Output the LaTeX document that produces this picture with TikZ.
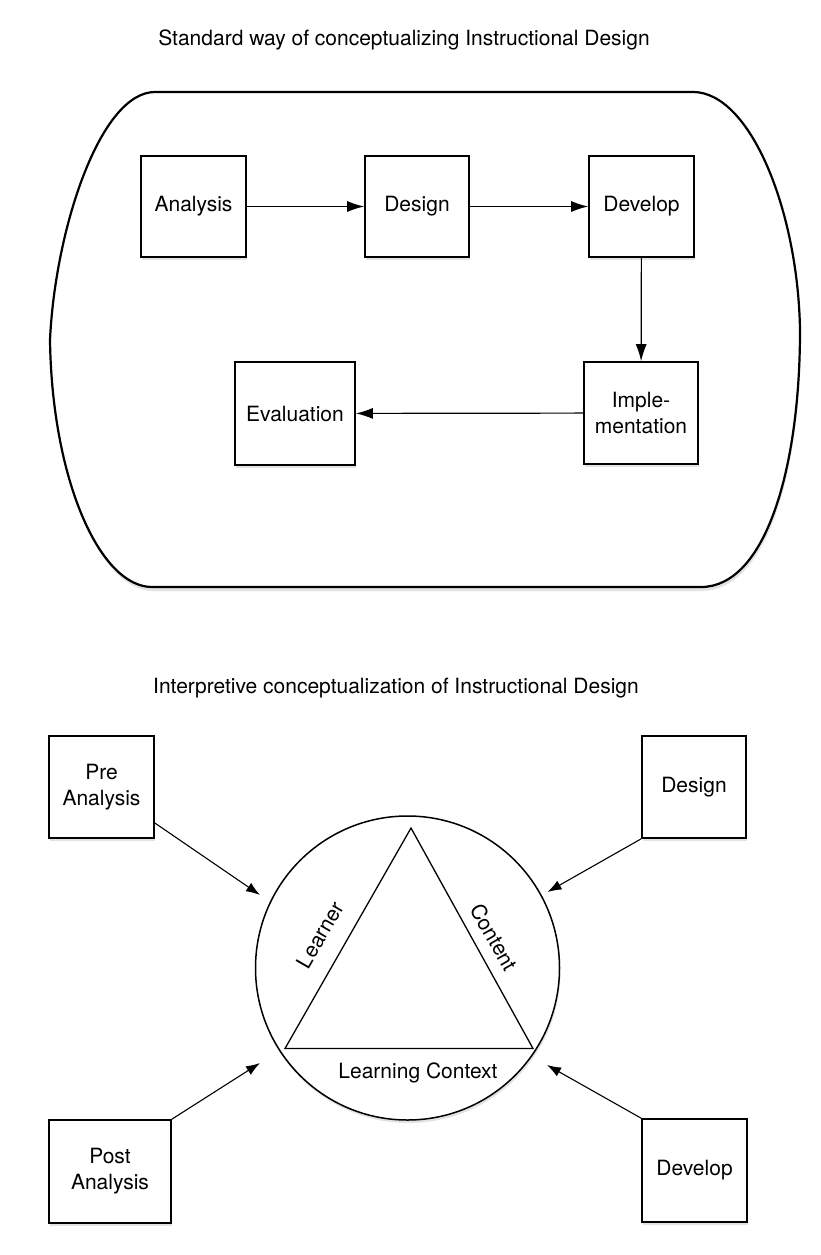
\documentclass[tikz,border=0pt]{standalone}
\usepackage{fontspec}
\setmainfont{TeX Gyre Heros}
\usetikzlibrary{arrows.meta,shadows}

\tikzset{
  boite/.style={draw,line width=1.6pt,fill=white,align=center,inner sep=2pt,
    drop shadow={opacity=0.22,shadow xshift=1pt,shadow yshift=-3pt}},
  fleche/.style={line width=1.2pt,-{Latex[length=17pt,width=11pt]}},
  flechebis/.style={line width=1.1pt,-{Latex[length=14pt,width=10pt]}}
}

\begin{document}
\begin{tikzpicture}[x=1pt,y=-1pt,font=\fontsize{21}{26}\selectfont]
	\useasboundingbox (0,0) rectangle (820,1255);
	\fill[white] (0,0) rectangle (820,1255);

	% la version standard
	\node (titreA) at (404,40) {Standard way of conceptualizing Instructional Design};
	\draw[line width=2.2pt,drop shadow={opacity=0.22,shadow xshift=1pt,shadow yshift=-4pt},fill=white]
		(155,92)--(693,92) .. controls (750,92) and (798,210) .. (800,330)
		.. controls (800,470) and (765,587) .. (701,587)--(152,587)
		.. controls (100,587) and (52,480) .. (50,340)
		.. controls (55,230) and (100,92) .. (155,92);

	\node[boite,minimum width=105pt,minimum height=101pt] (analyse) at (193.5,206.5) {Analysis};
	\node[boite,minimum width=104pt,minimum height=101pt] (design) at (417,206.5) {Design};
	\node[boite,minimum width=105pt,minimum height=101pt] (develop) at (641.5,206.5) {Develop};
	\node[boite,minimum width=114pt,minimum height=102pt] (impl) at (641,413) {Imple-\\mentation};
	\node[boite,minimum width=120pt,minimum height=103pt] (eval) at (295,413.5) {Evaluation};

	\draw[fleche] (analyse)--(design);
	\draw[fleche] (design)--(develop);
	\draw[fleche] (develop)--(impl);
	\draw[fleche] (impl)--(eval);

	% la version interpretative
	\node (titreB) at (396,688) {Interpretive conceptualization of Instructional Design};

	\node[boite,minimum width=105pt,minimum height=102pt] (pre) at (101.5,787) {Pre\\Analysis};
	\node[boite,minimum width=104pt,minimum height=102pt] (designB) at (694,787) {Design};
	\node[boite,minimum width=122pt,minimum height=103pt] (post) at (110,1171.5) {Post\\Analysis};
	\node[boite,minimum width=105pt,minimum height=103pt] (developB) at (694.5,1170.5) {Develop};

	\node[circle,draw,line width=1.5pt,fill=white,minimum size=304pt,
		drop shadow={opacity=0.22,shadow xshift=1pt,shadow yshift=-3pt}] (cercle) at (407.5,968) {};

	\coordinate (sommet) at (411,828);
	\coordinate (gauche) at (285,1048.5);
	\coordinate (droite) at (533,1048.5);
	\draw[line width=1.3pt] (sommet)--(gauche)--(droite)--cycle;

	\node[rotate=60] (learner) at (320,935) {Learner};
	\node[rotate=-60] (content) at (494,937) {Content};
	\node (contexte) at (418,1073) {Learning Context};

	\coordinate (pointeA) at (260,895);
	\coordinate (pointeB) at (547.5,892);
	\coordinate (pointeC) at (260,1063);
	\coordinate (pointeD) at (547,1065);
	\draw[flechebis] (pre.-34)--(pointeA);
	\draw[flechebis] (designB.south west)--(pointeB);
	\draw[flechebis] (post.north east)--(pointeC);
	\draw[flechebis] (developB.north west)--(pointeD);
\end{tikzpicture}
\end{document}
